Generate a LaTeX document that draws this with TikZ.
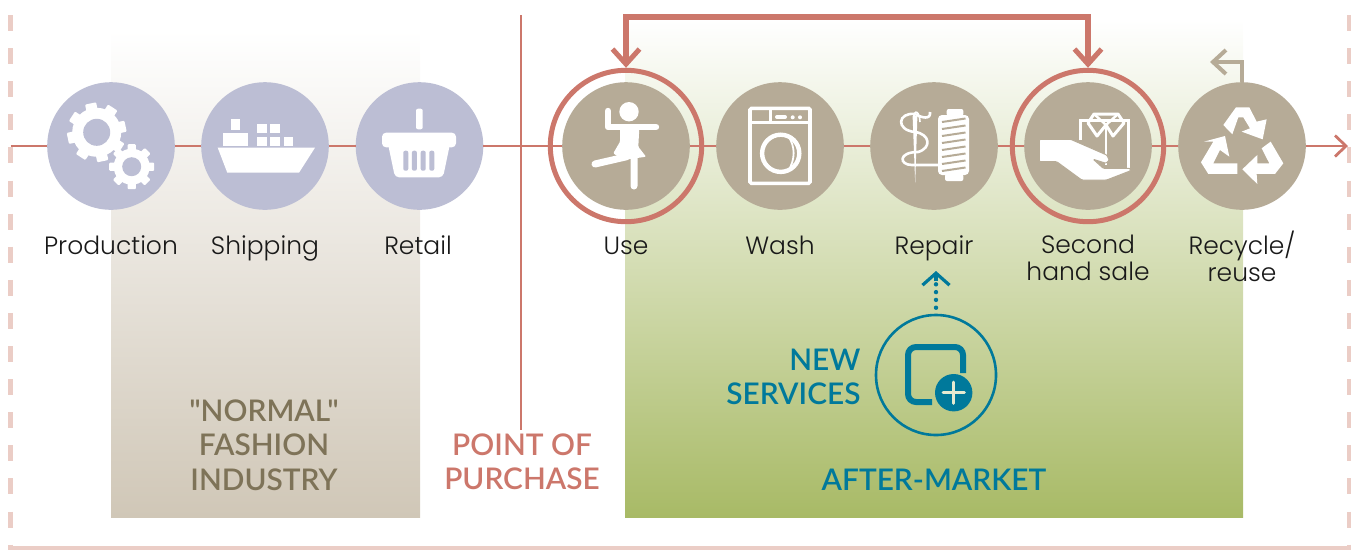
\documentclass[tikz,border=0pt]{standalone}
\usepackage{fontspec}
\setmainfont{Poppins}[UprightFont=* Light]
\newfontfamily\headfont{Lato}[UprightFont=* Semibold]
\usetikzlibrary{arrows.meta}

\definecolor{lilac}{HTML}{BCBED4}
\definecolor{taupe}{HTML}{B6AB97}
\definecolor{salmon}{HTML}{CC776B}
\definecolor{framepink}{HTML}{EBCDC6}
\definecolor{teal}{HTML}{00799B}
\definecolor{headbrown}{HTML}{7E7358}
\definecolor{beigeend}{HTML}{D0C7B7}
\definecolor{greenend}{HTML}{A8BA66}

\tikzset{
  dot/.style={circle,inner sep=0,outer sep=0,minimum size=127.6pt},
  ring/.style={circle,draw=salmon,line width=5pt,inner sep=0,minimum size=151.4pt},
  mainline/.style={draw=salmon,line width=2.8pt},
  steplabel/.style={font=\fontsize{25}{27}\selectfont,text=black!90,align=center,anchor=base},
  headlabel/.style={font=\headfont\fontsize{29.8}{34.5}\selectfont,align=center},
  framedash/.style={draw=framepink,line width=4.4pt,dash pattern=on 16pt off 17.1pt},
  icon/.style={fill=white,draw=none},
  iconline/.style={draw=white,line width=4pt}
}

% one gear: centre, root radius, hole radius, tooth radius, turn
\newcommand*{\gearicon}[6]{
  \fill[white] (#1,#2) circle (#3pt);
  \foreach \a in {0,45,...,315}
    \fill[white,rotate around={\a+#6:(#1,#2)},rounded corners=1pt] (#1-0.23*#3,#2) rectangle (#1+0.23*#3,#2-#5);
  \fill[lilac] (#1,#2) circle (#4pt);
}

\begin{document}
\begin{tikzpicture}[x=1pt,y=-1pt]
\useasboundingbox (0,0) rectangle (1354,550);

%panels:
\shade[top color=white,bottom color=beigeend] (111,30) rectangle (420,517);
\shade[top color=white,bottom color=greenend] (625,20) rectangle (1243,517);

%frame:
\draw[framedash] (10.5,15) -- (10.5,548);
\draw[framedash] (1349,15) -- (1349,548);
\draw[draw=framepink,line width=4.4pt] (8.3,548) -- (1351.2,548);

%steps:
\node[dot,fill=lilac] (production) at (111,146) {};
\node[dot,fill=lilac] (shipping) at (265,146) {};
\node[dot,fill=lilac] (retail) at (419.5,146) {};
\node[dot,fill=taupe] (use) at (626,146) {};
\node[dot,fill=taupe] (wash) at (780,146) {};
\node[dot,fill=taupe] (repair) at (934,146) {};
\node[dot,fill=taupe] (sale) at (1088,146) {};
\node[dot,fill=taupe] (recycle) at (1242,146) {};

%main line:
\coordinate (linestart) at (10.5,146);
\coordinate (lineend) at (1348,146);
\foreach \a/\b in {linestart/production,production/shipping,shipping/retail,retail/use,use/wash,wash/repair,repair/sale,sale/recycle}
  \draw[mainline] (\a) -- (\b);
\draw[mainline,-{Straight Barb[length=11pt,width=21pt,line width=2.8pt]}] (recycle) -- (lineend);

\node[ring] (ringuse) at (626,146) {};
\node[ring] (ringsale) at (1088,146) {};

%labels:
\node[steplabel] (lproduction) at (111,254) {Production};
\node[steplabel] (lshipping) at (265,254) {Shipping};
\node[steplabel] (lretail) at (418,254) {Retail};
\node[steplabel] (luse) at (626,254) {Use};
\node[steplabel] (lwash) at (780,254) {Wash};
\node[steplabel] (lrepair) at (934,254) {Repair};
\node[steplabel,anchor=north] (lsale) at (1088,231) {Second\\hand sale};
\node[steplabel,anchor=north] (lrecycle) at (1242,227) {Recycle/\\reuse};

\node[headlabel,text=headbrown] (normal) at (264,445) {"NORMAL"\\FASHION\\INDUSTRY};
\node[headlabel,text=salmon] (purchase) at (522,462) {POINT OF\\PURCHASE};
\node[headlabel,text=teal] (aftermarket) at (934,480) {AFTER-MARKET};
\node[headlabel,text=teal,align=right,anchor=east] (newlabel) at (864,377) {NEW\\SERVICES};

%connectors:
\coordinate (pointtop) at (521,15);
\draw[mainline] (pointtop) -- (purchase.north -| pointtop);
\coordinate (topbar) at (0,17);
\draw[draw=salmon,line width=5.4pt,
  {Straight Barb[length=15pt,width=27pt,line width=5pt]}-{Straight Barb[length=15pt,width=27pt,line width=5pt]}]
  (ringuse.north) -- (ringuse.north |- topbar) -- (ringsale.north |- topbar) -- (ringsale.north);
\coordinate (recyclebend) at (1242,62);
\coordinate (recycleend) at (1210,62);
\draw[draw=taupe,line width=4pt,-{Straight Barb[length=13pt,width=24pt,line width=4pt]}]
  (recycle.north) -- (recyclebend) -- (recycleend);

%new services:
\node[circle,draw=teal,line width=2.6pt,inner sep=0,minimum size=120pt] (newserv) at (936,375) {};
\coordinate (repairtip) at (936,271);
\draw[teal,line width=4.4pt,line cap=round,dash pattern=on 0pt off 7.8pt] (936,307.7) -- (936,280);
\draw[teal,line width=3.2pt,-{Straight Barb[length=12pt,width=27pt,line width=3.2pt]}] (936,281) -- (repairtip);
\draw[teal,line width=6pt,rounded corners=8pt] (932,402) -- (908,402) -- (908,347) -- (963,347) -- (963,373);
\fill[teal] (953.7,392.7) circle (18.7pt);
\draw[draw=white!70!greenend,line width=3pt,line cap=round] (943,392.7) -- (964.4,392.7) (953.7,382) -- (953.7,403.4);

%gears:
\gearicon{96.7}{132.3}{24.5}{13.5}{29.5}{12}
\gearicon{131.7}{166.7}{18}{9.5}{22.5}{0}

%ship:
\fill[icon] (217.7,147.7) -- (315,147.7) -- (299,172.7) -- (227.3,172.7) -- cycle;
\fill[icon] (222.7,133.3) rectangle (248.3,146);
\fill[icon] (231,119.3) rectangle (240,130);
\fill[icon] (257,124) rectangle (266.7,133.3);
\fill[icon] (270.3,124) rectangle (280,133.3);
\fill[icon] (257,137.3) rectangle (266.7,146);
\fill[icon] (270.3,137.3) rectangle (280,146);
\fill[icon] (284,137.3) rectangle (293.3,146);

%basket:
\fill[icon,rounded corners=2pt] (416,108.7) rectangle (422.7,129.3);
\fill[icon,rounded corners=4pt] (382,132.7) rectangle (456,147.3);
\fill[icon,rounded corners=4pt] (388,144) -- (450,144) -- (443,177.3) -- (395,177.3) -- cycle;
\foreach \a in {403.3,411.9,420.7,429.3}
  \fill[lilac,rounded corners=2pt] (\a,150.7) rectangle (\a+5,170.7);

%dancer:
\fill[white] (629,111.7) circle (9.7pt);
\draw[iconline,line width=6.4pt,line cap=round,line join=round] (608,111) -- (608,127) -- (656,127);
\fill[white,rounded corners=1pt] (620,128) -- (639.3,128) -- (638.3,146.7) -- (646,156.7) -- (623.3,160) -- (613.3,153.3) -- (620,141.7) -- cycle;
\draw[iconline,line width=7pt,line cap=round] (634,157) -- (634,186) (595,164) -- (626.7,156.7);

%washing machine:
\draw[iconline,line width=3.6pt,rounded corners=1.5pt] (750,108.3) rectangle (810,183.3);
\draw[iconline,line width=3pt] (750,122) -- (810,122) (770,108.3) -- (770,122);
\draw[iconline,line width=4pt,line cap=round] (777,117) -- (785,117);
\fill[white] (792.7,117.3) circle (2pt) (800,117.3) circle (2pt);
\draw[iconline,line width=4.4pt] (780.7,153.3) circle (18.6pt);
\draw[iconline,line width=1.8pt] (788,136) .. controls (795.5,146) and (795.5,160) .. (788,171);

%needle and spool:
\fill[white,rounded corners=2pt] (946.7,109) rectangle (963.3,116);
\fill[white,rounded corners=2pt] (945,174) rectangle (963.3,181);
\fill[white,rounded corners=4pt] (938,115) rectangle (969,175);
\foreach \a in {122,129,136,143,150,157,164,171}
  \draw[taupe,line width=2pt] (942,\a) -- (965.5,\a-3.5);
\fill[white] (912.6,116) -- (917.4,116) -- (915.2,183) -- cycle;
\draw[iconline,line width=1.6pt] (915,122) .. controls (911,112) and (919,106) .. (920,122);
\draw[iconline,line width=2.6pt] (930,112) .. controls (931,120) and (922,118) .. (915,114)
  .. controls (898,112) and (895,130) .. (915,132) .. controls (930,134) and (932,148) .. (918,152)
  .. controls (898,152) and (899,165) .. (912,165) -- (940,165);

%hand and shirt:
\draw[iconline,line width=3pt] (1080,140) -- (1080,120) -- (1128,120) -- (1128,168);
\draw[iconline,line width=3pt,line join=round] (1088,123) -- (1094,114) -- (1118,114) -- (1124,123) -- (1113,136) -- (1106,125) -- (1097,136) -- cycle;
\draw[iconline,line width=2.4pt] (1094,114) -- (1106,125) -- (1118,114);
\draw[iconline,line width=2.8pt] (1106,125) -- (1106,165);
\fill[white,draw=taupe,line width=1pt,rounded corners=1pt] (1039.3,139.3) -- (1070.7,139.3) -- (1106.7,155) -- (1109.3,160) -- (1106,163.3) -- (1093.3,159.3) -- (1103.3,168.3) -- (1130,168.3) -- (1130.7,170.7) -- (1106.7,180) -- (1081.7,180) -- (1056.7,161.7) -- (1039.3,161.7) -- cycle;

%recycle:
\begin{scope}[shift={(1000,0)},x=0.3333pt,y=-0.3333pt]
\fill[white] (670,375) -- (708,322) -- (748,322) -- (770,365) -- (800,358) -- (788,418) -- (725,395) -- (750,385) -- (730,352) -- (715,352) -- (697,403) -- cycle;
\fill[white] (712,490) -- (712,522) -- (625,522) -- (603,487) -- (640,425) -- (612,425) -- (675,408) -- (688,470) -- (660,450) -- (640,490) -- cycle;
\fill[white] (812,425) -- (850,490) -- (825,522) -- (770,522) -- (772,552) -- (727,508) -- (772,465) -- (772,490) -- (808,490) -- (785,445) -- cycle;
\end{scope}

\end{tikzpicture}
\end{document}
